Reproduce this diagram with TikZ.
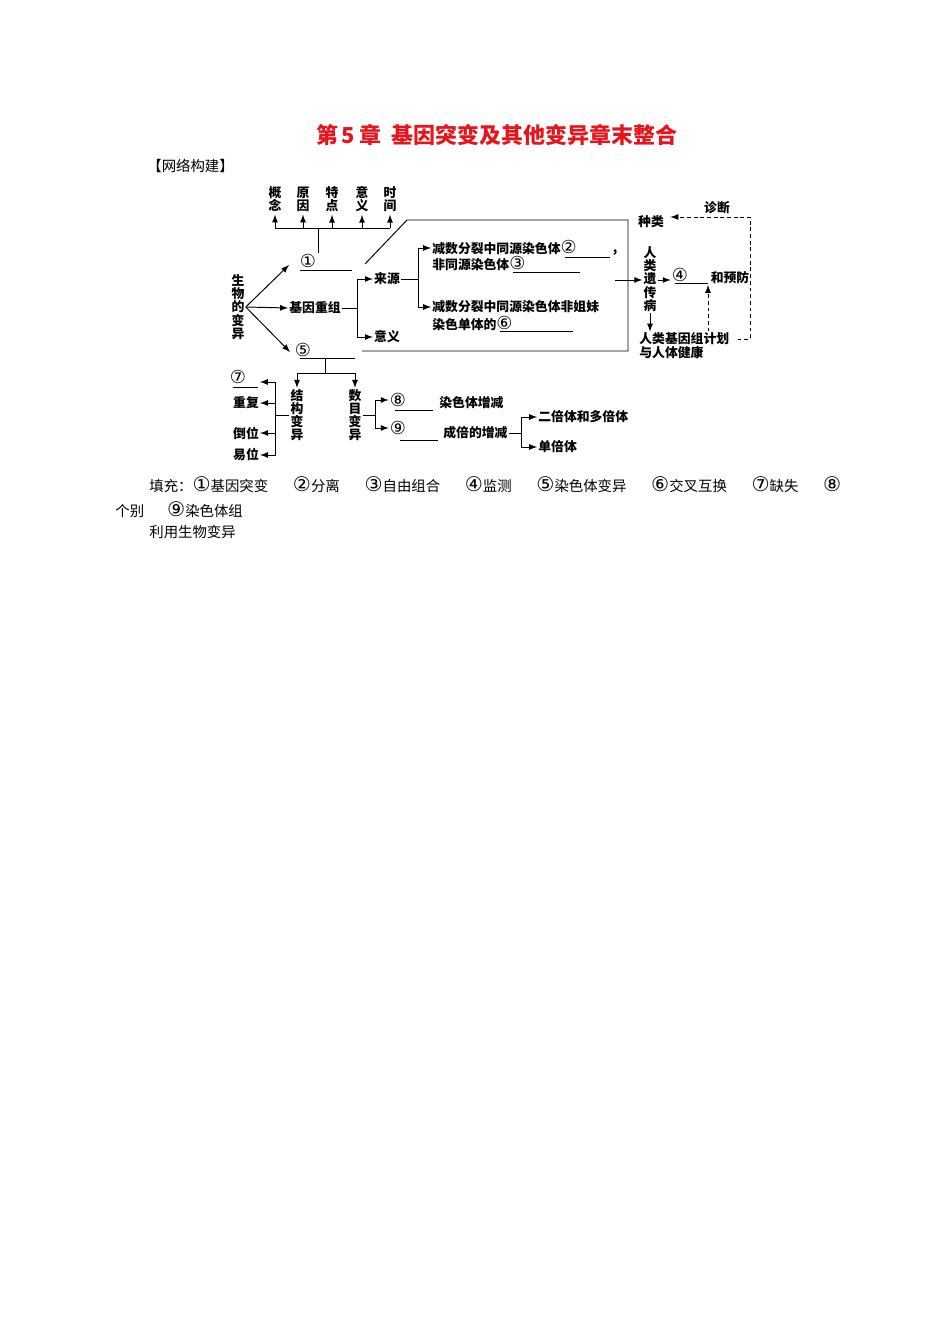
\documentclass[tikz,border=0pt]{standalone}
\usepackage{fontspec}
\setmainfont{Noto Sans CJK SC}
\newfontfamily\numfont[Scale=1.4]{DejaVu Sans}
\usetikzlibrary{calc}
\usetikzlibrary{arrows}
\usetikzlibrary{positioning}
\definecolor{TitleRed}{HTML}{E8141B}
\newcommand{\dfont}{\fontsize{7.3}{7.5}\selectfont\bfseries}
\newcommand{\bfont}{\fontsize{8.2}{10}\selectfont}
\newcommand{\cnum}[1]{{\numfont\mdseries #1}}

\begin{document}
\begin{tikzpicture}[x=0.02cm, y=-0.02cm, line width=0.55pt,
    every node/.style={inner sep=0.5pt, font=\dfont},
    arr/.style={-latex},
    darr/.style={-latex, dash pattern=on 2.2pt off 1.6pt},
    vtext/.style={align=center},
    body/.style={font=\bfont, anchor=west}]
  \useasboundingbox (0,0) rectangle (950,1344);
  \fill[white] (0,0) rectangle (950,1344);

  % title
  \node[font=\fontsize{12.5}{14}\selectfont\bfseries, text=TitleRed, anchor=west]
    (title) at (315,135) {第\,5\,章\enspace 基因突变及其他变异章末整合};
  \node[body] (net) at (146,166) {【网络构建】};

  % top row
  \coordinate (bar) at (318,228);
  \foreach \x/\t [count=\i] in {275/概\\念, 303/原\\因, 332/特\\点, 362/意\\义, 390/时\\间}{%
    \node[vtext] (top\i) at (\x,199) {\t};
    \draw[arr, shorten >=1pt] (top\i.south |- bar) -- (top\i.south);
  }
  \draw (top1.south |- bar) -- (top5.south |- bar);
  \draw (bar) -- ++(0,25);

  % left branch
  \node[vtext] (root) at (238,307) {生\\物\\的\\变\\异};
  \node (n1) at (308,261) {\cnum{①}};
  \node (gr) at (315,308) {基因重组};
  \node (n5) at (303,350) {\cnum{⑤}};
  \coordinate (to1) at (289,265);
  \coordinate (to5) at (290,352);
  \draw[arr] (root.east) -- (to1);
  \draw[arr] (root.east) -- (gr.west);
  \draw[arr] (root.east) -- (to5);
  \draw (300,270) -- (352,270);
  \draw (300,358) -- (355,358);

  % gene recombination
  \node (ly) at (387,279) {来源};
  \node (yy) at (387,337) {意义};
  \draw[arr] (gr.east) -- ++(15,0) |- (ly.west);
  \draw[arr] (gr.east) -- ++(15,0) |- (yy.west);
  \node[anchor=west] (m1a) at (431,248) {减数分裂中同源染色体\cnum{②}};
  \node[anchor=west] (m1b) at (431,264) {非同源染色体\cnum{③}};
  \node[anchor=west] (m2a) at (431,307) {减数分裂中同源染色体非姐妹};
  \node[anchor=west] (m2b) at (431,323) {染色单体的\cnum{⑥}};
  \draw[arr] (ly.east) -- ++(17,0) |- (m1a.west);
  \draw[arr] (ly.east) -- ++(17,0) |- (m2a.west);
  \node (cm) at (615,253) {,};
  \draw (565,257) -- (610,257);
  \draw (513,272) -- (580,272);
  \draw (500,331) -- (573,331);
  \draw (365,264) -- (407,220) -- (628,220) -- (628,351) -- (362,351);

  % human genetic disease
  \node[vtext] (rlb) at (650,279) {人\\类\\遗\\传\\病};
  \node (zl) at (651,222) {种类};
  \node (zd) at (717,208) {诊断};
  \node (n4) at (680,275) {\cnum{④}};
  \node (hy) at (730,278) {和预防};
  \node[anchor=west] (jh1) at (638,339) {人类基因组计划};
  \node[anchor=west] (jh2) at (638,353) {与人体健康};
  \coordinate (fr) at (615,280);
  \draw[arr] (fr) -- (rlb.west |- fr);
  \draw[arr] (rlb.east |- fr) -- (n4.west |- fr);
  \draw (675,283) -- (708,283);
  \draw[arr] (rlb.south) -- (rlb.south |- jh1.north);
  \coordinate (b4) at (708,285);
  \draw[darr] (b4 |- jh1.north) -- (b4);
  \coordinate (dc) at (750,217);
  \draw[darr, shorten <=4pt, shorten >=3pt] (jh1.east) -- (jh1.east -| dc) -- (dc) -- (dc -| zl.east);

  % chromosome variation
  \coordinate (s5) at (325,358);
  \node[vtext] (jg) at (297,415) {结\\构\\变\\异};
  \node[vtext] (sm) at (355,415) {数\\目\\变\\异};
  \draw[arr] (s5) -- ++(0,15) -| (jg.north);
  \draw[arr] (s5) -- ++(0,15) -| (sm.north);

  \node (n7) at (238,377) {\cnum{⑦}};
  \draw (233,387) -- (258,387);
  \coordinate (t7) at (260,382);
  \node (cf) at (246,403) {重复};
  \node (dw) at (246,433) {倒位};
  \node (yw) at (246,455) {易位};
  \draw[arr] (jg.west) -- ++(-14,0) |- (t7);
  \foreach \n in {cf,dw,yw}
    \draw[arr] (jg.west) -- ++(-14,0) |- (\n.east);

  \node (n8) at (398,400) {\cnum{⑧}};
  \node (n9) at (398,428) {\cnum{⑨}};
  \draw[arr] (sm.east) -- ++(13,0) |- (n8.west);
  \draw[arr] (sm.east) -- ++(13,0) |- (n9.west);
  \draw (395,410) -- (433,410);
  \draw (400,440) -- (438,440);
  \node[anchor=west] (rz) at (438,403) {染色体增减};
  \node[anchor=west] (cb) at (442,433) {成倍的增减};
  \node[anchor=west] (ebt) at (537,417) {二倍体和多倍体};
  \node[anchor=west] (dbt) at (537,447) {单倍体};
  \draw[arr] (cb.east) -- ++(13,0) |- (ebt.west);
  \draw[arr] (cb.east) -- ++(13,0) |- (dbt.west);

  % answers
  \node[body] (fill1) at (148,485) {\makebox[13.84cm][l]{填充：\cnum{①}基因突变\hfill\cnum{②}分离\hfill\cnum{③}自由组合\hfill\cnum{④}监测\hfill\cnum{⑤}染色体变异\hfill\cnum{⑥}交叉互换\hfill\cnum{⑦}缺失\hfill\cnum{⑧}}};
  \node[body] (fill2) at (114,510) {个别\hspace{0.46cm}\cnum{⑨}染色体组};
  \node[body] (fill3) at (148,532) {利用生物变异};
\end{tikzpicture}
\end{document}
